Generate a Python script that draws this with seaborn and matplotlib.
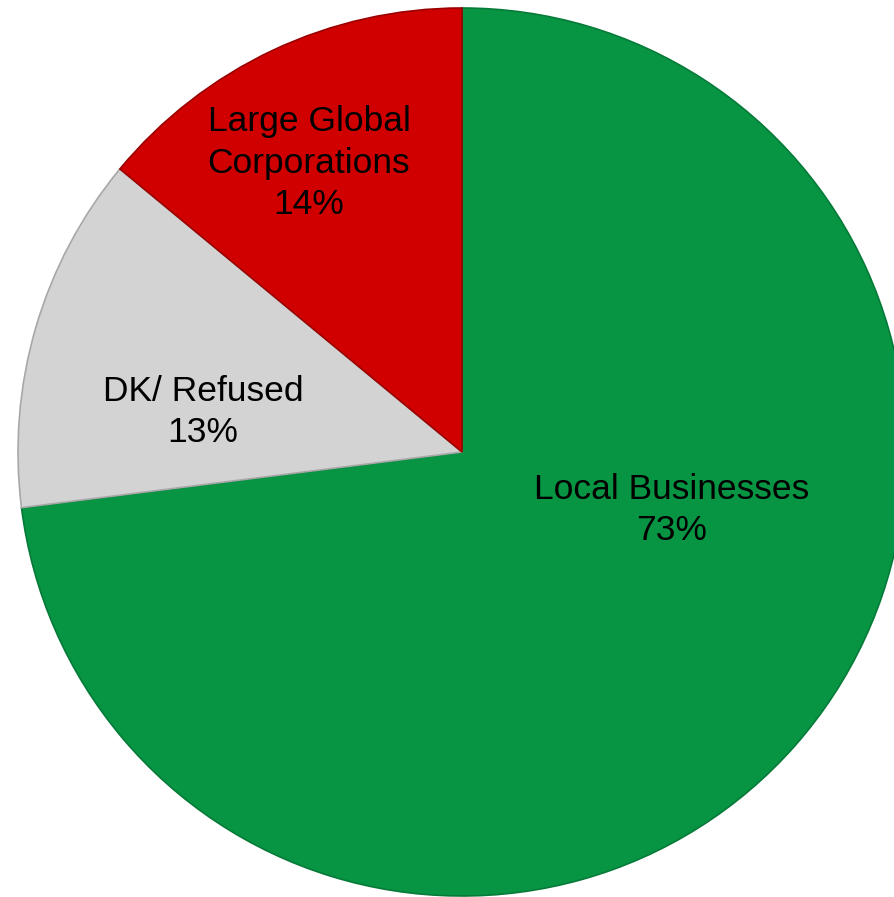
import matplotlib
matplotlib.use("Agg")
import matplotlib.pyplot as plt
import seaborn as sns

# Survey shares
categories = ["Local Businesses", "DK/ Refused", "Large Global\nCorporations"]
shares = [73, 13, 14]
colors = ["#079443", "#D3D3D3", "#D10000"]
edge_colors = ["#067A38", "#A8A8A8", "#9A0000"]

# Label anchor points (pixel space of the canvas)
label_pos = [(672, 387), (203, 485), (309, 734)]

sns.set_theme(style="white")
plt.rcParams["font.family"] = ["Liberation Sans", "DejaVu Sans"]

W, H = 894, 897
fig = plt.figure(figsize=(W / 100, H / 100), dpi=100)
ax = fig.add_axes([0, 0, 1, 1])

wedges, _ = ax.pie(
    shares,
    colors=colors,
    startangle=90,
    counterclock=False,
    center=(462, 445),
    radius=444,
    wedgeprops=dict(linewidth=1.2),
)
for w, ec in zip(wedges, edge_colors):
    w.set_edgecolor(ec)

for cat, val, (x, y) in zip(categories, shares, label_pos):
    ax.text(x, y, f"{cat}\n{val}%", ha="center", va="center",
            fontsize=25.5, color="black", linespacing=1.32)

ax.set_xlim(0, W)
ax.set_ylim(0, H)
ax.set_aspect("equal")
ax.axis("off")

fig.savefig("out.png", dpi=100, facecolor="white")
